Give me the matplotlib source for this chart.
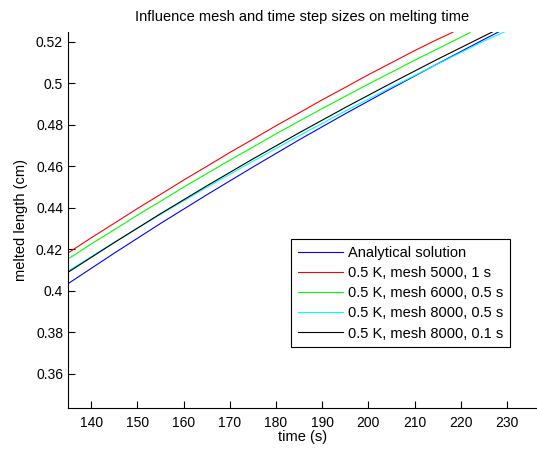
import matplotlib
matplotlib.use("Agg")
import matplotlib.pyplot as plt

plt.rcParams['font.family'] = ['Liberation Sans', 'DejaVu Sans']

# ===== Data =====
t_analytic = [135, 145, 155, 165, 175, 185, 195, 205, 215, 225, 228.5]
s_analytic = [0.4035, 0.4182, 0.4325, 0.4463, 0.4597, 0.4728, 0.4854, 0.4976, 0.5095, 0.5212, 0.5252]

t_m5000 = [135, 140, 145, 150, 155, 160, 165, 170, 175, 180, 185, 190, 195, 200, 205, 210, 215, 218.3]
s_m5000 = [0.4183, 0.4256, 0.4326, 0.4397, 0.4465, 0.4534, 0.4600, 0.4667, 0.4731,
           0.4796, 0.4858, 0.4921, 0.4981, 0.5042, 0.5100, 0.5158, 0.5213, 0.5247]

t_m6000 = [135, 140, 145, 150, 155, 160, 165, 170, 175, 180, 185, 190, 195, 200, 205, 210, 215, 222]
s_m6000 = [0.4154, 0.4226, 0.4295, 0.4365, 0.4432, 0.4500, 0.4565, 0.4630, 0.4693,
           0.4757, 0.4818, 0.4879, 0.4938, 0.4997, 0.5054, 0.5112, 0.5167, 0.5245]

t_m8000_05 = [135, 145, 155, 165, 175, 185, 195, 205, 215, 225, 229.8]
s_m8000_05 = [0.4095, 0.4234, 0.4369, 0.4499, 0.4625, 0.4748, 0.4867, 0.4982, 0.5094, 0.5204, 0.5252]

t_m8000_01 = [135, 145, 155, 165, 175, 185, 195, 205, 215, 227]
s_m8000_01 = [0.4090, 0.4233, 0.4372, 0.4506, 0.4636, 0.4762, 0.4884, 0.5002, 0.5117, 0.5250]

labels = ['Analytical solution', '0.5 K, mesh 5000, 1 s', '0.5 K, mesh 6000, 0.5 s',
          '0.5 K, mesh 8000, 0.5 s', '0.5 K, mesh 8000, 0.1 s']

# ===== Plot =====
fig = plt.figure(figsize=(5.37, 4.5), dpi=100)
ax = fig.add_axes([0.1266, 0.0933, 0.8734, 0.8356])

ax.plot(t_analytic, s_analytic, color='#0000ff', lw=0.8, label=labels[0])
ax.plot(t_m5000, s_m5000, color='#ff0000', lw=0.8, label=labels[1])
ax.plot(t_m6000, s_m6000, color='#00ff00', lw=0.8, label=labels[2])
ax.plot(t_m8000_05, s_m8000_05, color='#00ffff', lw=0.8, label=labels[3])
ax.plot(t_m8000_01, s_m8000_01, color='#000000', lw=0.8, label=labels[4])

ax.set_xlim(135, 236.5)
ax.set_ylim(0.3436, 0.5248)
ax.set_xticks(range(140, 231, 10))
ax.set_yticks([0.36, 0.38, 0.4, 0.42, 0.44, 0.46, 0.48, 0.5, 0.52])
ax.set_yticklabels(['0.36', '0.38', '0.4', '0.42', '0.44', '0.46', '0.48', '0.5', '0.52'])
ax.tick_params(direction='in', length=5, width=0.8, labelsize=10)
ax.tick_params(axis='x', pad=6)
ax.spines['top'].set_visible(False)
ax.spines['right'].set_visible(False)

ax.set_title('Influence mesh and time step sizes on melting time', fontsize=10.5, pad=8)
ax.set_xlabel('time (s)', fontsize=10.5, labelpad=0)
ax.set_ylabel('melted length (cm)', fontsize=10.5, labelpad=6)

leg = ax.legend(loc='upper left', bbox_to_anchor=(0.460, 0.4676), fontsize=10.5,
                fancybox=False, edgecolor='black', framealpha=1,
                handlelength=3.1, handletextpad=0.35, borderpad=0.45, labelspacing=0.42)
leg.get_frame().set_linewidth(0.8)

fig.savefig('out.png', dpi=100)
